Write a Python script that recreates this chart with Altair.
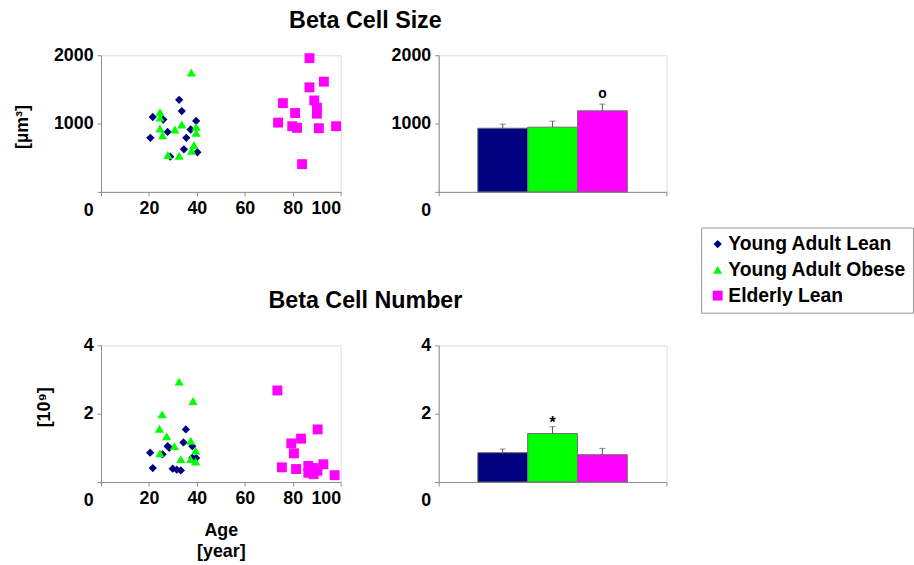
import altair as alt
import pandas as pd

groups = ["Young Adult Lean", "Young Adult Obese", "Elderly Lean"]
colors = ["#000080", "#00FF00", "#FF00FF"]
shapes = ["diamond", "triangle-up", "square"]
sizes = [70, 100, 95]

# Beta cell size (scatter)
size_lean_age = [32.6, 33.7, 21.6, 26.0, 20.6, 27.8, 37.4, 39.7, 35.6, 34.6, 40.2, 28.9]
size_lean_val = [1348, 1183, 1096, 1058, 791, 878, 913, 1038, 791, 623, 580, 516]
size_obese_age = [37.7, 24.6, 24.6, 24.6, 25.7, 30.8, 33.7, 39.7, 39.7, 38.8, 37.8, 27.9, 32.6]
size_obese_val = [1748, 1168, 1087, 927, 830, 913, 986, 951, 864, 686, 603, 541, 530]
size_eld_age = [87.0, 93.0, 87.0, 75.9, 89.0, 90.1, 90.1, 81.0, 73.9, 79.8, 81.8, 90.9, 98.1, 83.9]
size_eld_val = [1957, 1613, 1530, 1299, 1338, 1232, 1145, 1154, 1014, 961, 937, 932, 961, 406]

# Beta cell number (scatter)
num_lean_age = [35.4, 34.4, 27.8, 28.5, 38.1, 20.5, 25.7, 38.1, 39.7, 21.6, 29.9, 31.6, 33.3]
num_lean_val = [1.54, 1.16, 1.05, 1.00, 1.05, 0.86, 0.81, 0.71, 0.70, 0.41, 0.39, 0.36, 0.34]
num_obese_age = [32.6, 38.4, 25.5, 24.4, 27.4, 30.6, 37.4, 39.5, 24.6, 33.3, 37.4, 39.5]
num_obese_val = [2.94, 2.37, 1.98, 1.56, 1.34, 1.05, 1.21, 0.92, 0.84, 0.67, 0.67, 0.60]
num_eld_age = [73.6, 90.4, 83.5, 79.4, 80.5, 75.5, 81.4, 86.5, 92.8, 88.6, 90.3, 86.5, 88.7, 97.5]
num_eld_val = [2.68, 1.54, 1.27, 1.13, 0.84, 0.43, 0.38, 0.47, 0.52, 0.41, 0.33, 0.27, 0.23, 0.20]

# Bar summaries (mean, SEM)
size_mean = [932, 947, 1186]
size_sem = [59, 88, 98]
size_marks = ["", "", "o"]
num_mean = [0.86, 1.42, 0.80]
num_sem = [0.105, 0.20, 0.185]
num_marks = ["", "*", ""]

FONT = "Liberation Sans"
AX = "#8c8c8c"


def scatter_df(ages, vals):
    rows = []
    for g, a_list, v_list in zip(groups, ages, vals):
        for a, v in zip(a_list, v_list):
            rows.append({"group": g, "age": a, "value": v})
    return pd.DataFrame(rows)


def bar_df(means, sems, marks):
    return pd.DataFrame({
        "cat": [""] * 3,
        "group": groups,
        "mean": means,
        "top": [m + s for m, s in zip(means, sems)],
        "label": marks,
    })


def zero_offset():
    return {"condition": {"test": "datum.value == 0", "value": 19}, "value": 0}


def y_axis(vals, title, tx, ty):
    return alt.Axis(values=vals, format="d", title=title, titleX=tx, titleY=ty, titleAngle=-90,
                    titleBaseline="middle", titleAlign="center", titleFontSize=18,
                    titleFont=FONT, titleFontWeight="bold", titleColor="black",
                    labelOffset=zero_offset(), labelFontSize=18, labelFont=FONT,
                    labelFontWeight="bold", labelColor="black", labelPadding=4,
                    tickSize=4, tickColor=AX, domainColor=AX, grid=False)


def scatter(df, ymax, yvals, ytitle, tx, ty, title, toff, xtitle, legend):
    xt = alt.Axis(values=[0, 20, 40, 60, 80, 100],
                  labelExpr="datum.value == 0 ? '' : datum.label",
                  labelFontSize=18, labelFont=FONT, labelFontWeight="bold",
                  labelColor="black", labelPadding=4, tickSize=4, tickColor=AX,
                  domainColor=AX, grid=False, title=xtitle, titleFontSize=18,
                  titleFont=FONT, titleFontWeight="bold", titleColor="black",
                  titlePadding=14, titleLineHeight=21)
    if legend:
        leg = alt.Legend(title=None, orient="none", legendX=606, legendY=174,
                         labelFontSize=19.5, labelFont=FONT, labelFontWeight="bold",
                         labelColor="black", labelLimit=400, strokeColor="#999999",
                         fillColor="white", padding=7, rowPadding=5, symbolSize=70,
                         labelOffset=1, symbolStrokeWidth=0)
    else:
        leg = None
    return alt.Chart(df).mark_point(filled=True, opacity=1).encode(
        x=alt.X("age:Q", scale=alt.Scale(domain=[0, 100], nice=False), axis=xt),
        y=alt.Y("value:Q", scale=alt.Scale(domain=[0, ymax], nice=False),
                axis=y_axis(yvals, ytitle, tx, ty)),
        color=alt.Color("group:N", scale=alt.Scale(domain=groups, range=colors), legend=leg),
        shape=alt.Shape("group:N", scale=alt.Scale(domain=groups, range=shapes), legend=leg),
        size=alt.Size("group:N", scale=alt.Scale(domain=groups, range=sizes), legend=None),
    ).properties(
        width=242, height=138,
        title=alt.TitleParams(title, frame="group", anchor="middle", dx=146, offset=toff,
                              fontSize=23.5, font=FONT, fontWeight="bold", color="black"),
    )


def bars(df, ymax, yvals, dy, fs):
    base = alt.Chart(df).encode(
        x=alt.X("cat:N", scale=alt.Scale(paddingInner=0, paddingOuter=0),
                axis=alt.Axis(title=None, labels=False, tickBand="extent", tickSize=4,
                              tickColor=AX, domainColor=AX)),
        xOffset=alt.XOffset("group:N", sort=groups,
                            scale=alt.Scale(domain=groups, paddingInner=0, paddingOuter=0.785)),
    )
    ysc = alt.Scale(domain=[0, ymax], nice=False)
    b = base.mark_bar(stroke="#6e6e6e", strokeWidth=1).encode(
        y=alt.Y("mean:Q", scale=ysc, axis=y_axis(yvals, None, 0, 0)),
        color=alt.Color("group:N", scale=alt.Scale(domain=groups, range=colors), legend=None),
    )
    err = base.mark_rule(color="#555555", strokeWidth=1).encode(y="mean:Q", y2="top:Q")
    cap = base.mark_tick(color="#555555", thickness=1, size=6).encode(y="top:Q")
    txt = base.mark_text(font=FONT, fontSize=fs, fontWeight="bold", color="black",
                         baseline="alphabetic", dy=dy).encode(y="top:Q", text="label:N")
    return alt.layer(b, err, cap, txt).properties(width=230, height=138)


s1 = scatter(scatter_df([size_lean_age, size_obese_age, size_eld_age],
                        [size_lean_val, size_obese_val, size_eld_val]),
             2000, [0, 1000, 2000], "[µm³]", -79, 72, "Beta Cell Size", 14, None, True)
b1 = bars(bar_df(size_mean, size_sem, size_marks), 2000, [0, 1000, 2000], -6, 14)
s2 = scatter(scatter_df([num_lean_age, num_obese_age, num_eld_age],
                        [num_lean_val, num_obese_val, num_eld_val]),
             4, [0, 2, 4], "[10⁹]", -57, 62, "Beta Cell Number", 24, ["Age", "[year]"], False)
b2 = bars(bar_df(num_mean, num_sem, num_marks), 4, [0, 2, 4], 1, 16)

chart = alt.concat(s1, b1, s2, b2, columns=2, spacing={"row": 155, "column": 99},
                   bounds="flush").resolve_scale(
    x="independent", y="independent", color="independent", shape="independent",
    size="independent"
).properties(padding={"left": 13, "top": 6, "right": 0, "bottom": 0}).configure_view(
    stroke=None
).configure(font=FONT, background="white")

chart.save("out.html", embed_options={"renderer": "svg", "actions": False})
